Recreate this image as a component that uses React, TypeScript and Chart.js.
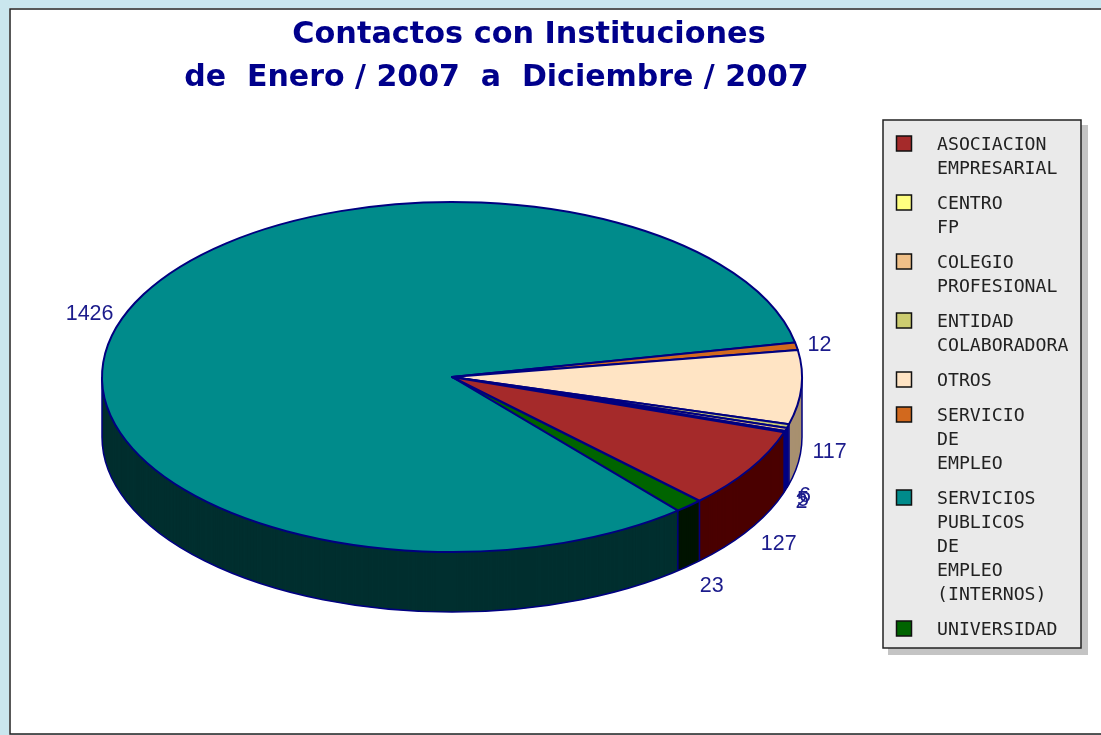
import React, { useEffect, useRef } from "react";
import { Chart, registerables } from "chart.js";

Chart.register(...registerables);

const titleLines = ["Contactos con Instituciones", "de  Enero / 2007  a  Diciembre / 2007"];
const categories = [
  ["ASOCIACION", "EMPRESARIAL"],
  ["CENTRO", "FP"],
  ["COLEGIO", "PROFESIONAL"],
  ["ENTIDAD", "COLABORADORA"],
  ["OTROS"],
  ["SERVICIO", "DE", "EMPLEO"],
  ["SERVICIOS", "PUBLICOS", "DE", "EMPLEO", "(INTERNOS)"],
  ["UNIVERSIDAD"],
];
const values = [127, 2, 5, 6, 117, 12, 1426, 23];
const topColors = ["#A52A2A", "#FFFF80", "#F0C088", "#CCCC70", "#FFE4C4", "#D2691E", "#008B8B", "#006400"];
const sideColors = ["#4A0000", "#000080", "#000080", "#000080", "#A89070", "#6A3410", "#002F2F", "#001400"];

const NAVY = "#000080";
const SQUASH = 0.5;
const DEPTH = 60;

// Chart.js sweeps clockwise while the reference sweeps counter-clockwise.
const rev = <T,>(a: T[]) => a.slice().reverse();

const framePlugin = {
  id: "frame",
  beforeDraw(chart: any) {
    const { ctx, width, height } = chart;
    ctx.save();
    ctx.fillStyle = "#CAE6EE";
    ctx.fillRect(0, 0, width, height);
    ctx.fillStyle = "#FFFFFF";
    ctx.fillRect(9, 8, width - 9, 726);
    ctx.strokeStyle = "#222222";
    ctx.lineWidth = 1.5;
    ctx.beginPath();
    ctx.moveTo(width, 9);
    ctx.lineTo(10, 9);
    ctx.lineTo(10, 734);
    ctx.lineTo(width, 734);
    ctx.stroke();
    ctx.textBaseline = "middle";
    ctx.textAlign = "center";
    ctx.fillStyle = "#00008B";
    ctx.font = "bold 30.3px 'DejaVu Sans'";
    ctx.fillText(titleLines[0], 529, 35);
    ctx.font = "bold 30px 'DejaVu Sans'";
    ctx.fillText(titleLines[1], 496.5, 78);
    ctx.restore();
  },
};

const pie3dPlugin = {
  id: "pie3d",
  beforeDatasetsDraw(chart: any) {
    const { ctx } = chart;
    const arcs = chart.getDatasetMeta(0).data;
    const ds = chart.data.datasets[0];
    const tops: string[] = ds.backgroundColor;
    const sides: string[] = ds.sideColor;
    const labels: number[] = ds.data;
    const slicePath = (a: any, dy: number) => {
      ctx.beginPath();
      ctx.moveTo(a.x, a.y + dy);
      ctx.ellipse(a.x, a.y + dy, a.outerRadius, a.outerRadius * SQUASH, 0, a.startAngle, a.endAngle);
      ctx.closePath();
    };
    const edge = (a: any, ang: number, dy: number, k = 1) => ({
      x: a.x + Math.cos(ang) * a.outerRadius * k,
      y: a.y + Math.sin(ang) * a.outerRadius * SQUASH * k + dy,
    });
    ctx.save();
    ctx.lineJoin = "round";
    // Extruded side, bottom layer upward
    for (let d = DEPTH; d >= 1; d--) {
      arcs.forEach((a: any, i: number) => {
        slicePath(a, d);
        ctx.fillStyle = sides[i];
        ctx.fill();
      });
    }
    // Outline of the bottom rim and side seams
    ctx.strokeStyle = NAVY;
    ctx.lineWidth = 1.5;
    const a0 = arcs[0];
    ctx.beginPath();
    ctx.ellipse(a0.x, a0.y + DEPTH, a0.outerRadius, a0.outerRadius * SQUASH, 0, 0, Math.PI);
    ctx.moveTo(a0.x - a0.outerRadius, a0.y);
    ctx.lineTo(a0.x - a0.outerRadius, a0.y + DEPTH);
    ctx.moveTo(a0.x + a0.outerRadius, a0.y);
    ctx.lineTo(a0.x + a0.outerRadius, a0.y + DEPTH);
    ctx.stroke();
    arcs.forEach((a: any) => {
      if (Math.sin(a.startAngle) > 0) {
        const p = edge(a, a.startAngle, 0);
        ctx.beginPath();
        ctx.moveTo(p.x, p.y);
        ctx.lineTo(p.x, p.y + DEPTH);
        ctx.stroke();
      }
    });
    // Top face
    arcs.forEach((a: any, i: number) => {
      slicePath(a, 0);
      ctx.fillStyle = tops[i];
      ctx.fill();
      ctx.lineWidth = 2;
      ctx.strokeStyle = NAVY;
      ctx.stroke();
    });
    // Value labels
    ctx.fillStyle = "#1C1C8C";
    ctx.font = "21.5px 'Liberation Sans'";
    ctx.textBaseline = "middle";
    arcs.forEach((a: any, i: number) => {
      const mid = (a.startAngle + a.endAngle) / 2;
      const s = Math.sin(mid);
      const p = edge(a, mid, s > 0 ? DEPTH : 0);
      const right = Math.cos(mid) >= 0;
      ctx.textAlign = right ? "left" : "right";
      ctx.fillText(String(labels[i]), p.x + (right ? 11 : -8), p.y + s * 24 + 3);
    });
    ctx.restore();
    return false;
  },
};

const legendPlugin = {
  id: "boxLegend",
  afterDraw(chart: any) {
    const { ctx } = chart;
    const boxX = 883, boxY = 120, boxW = 198, boxH = 528;
    ctx.save();
    ctx.fillStyle = "#C4C4C4";
    ctx.fillRect(boxX + 5, boxY + 5, boxW + 2, boxH + 2);
    ctx.fillStyle = "#EAEAEA";
    ctx.fillRect(boxX, boxY, boxW, boxH);
    ctx.strokeStyle = "#222222";
    ctx.lineWidth = 1.5;
    ctx.strokeRect(boxX, boxY, boxW, boxH);
    ctx.font = "18.2px 'DejaVu Sans Mono'";
    ctx.textBaseline = "middle";
    ctx.textAlign = "left";
    let y = 144;
    categories.forEach((lines, i) => {
      ctx.fillStyle = topColors[i];
      ctx.fillRect(896.5, y - 8, 15, 15);
      ctx.strokeStyle = "#111111";
      ctx.lineWidth = 1.5;
      ctx.strokeRect(896.5, y - 8, 15, 15);
      ctx.fillStyle = "#222222";
      lines.forEach((line, j) => ctx.fillText(line, 937, y + 1 + j * 24));
      y += lines.length * 24 + 11;
    });
    ctx.restore();
  },
};

export default function App() {
  const ref = useRef<HTMLCanvasElement>(null);
  useEffect(() => {
    if (!ref.current) return;
    const chart = new Chart(ref.current, {
      type: "pie",
      data: {
        labels: rev(categories).map((l) => l.join(" ")),
        datasets: [
          {
            data: rev(values),
            backgroundColor: rev(topColors),
            sideColor: rev(sideColors),
            borderColor: NAVY,
            borderWidth: 0,
          } as any,
        ],
      },
      options: {
        responsive: false,
        animation: false,
        rotation: 135,
        layout: { padding: { left: 102, right: 299, top: 27, bottom: 8 } },
        plugins: { legend: { display: false }, title: { display: false }, tooltip: { enabled: false } },
      },
      plugins: [framePlugin, pie3dPlugin, legendPlugin],
    });
    return () => chart.destroy();
  }, []);
  return (
    <canvas
      ref={ref}
      width={1101}
      height={735}
      style={{ position: "absolute", left: 0, top: 0, width: 1101, height: 735, display: "block", filter: "blur(0.4px)" }}
    />
  );
}
